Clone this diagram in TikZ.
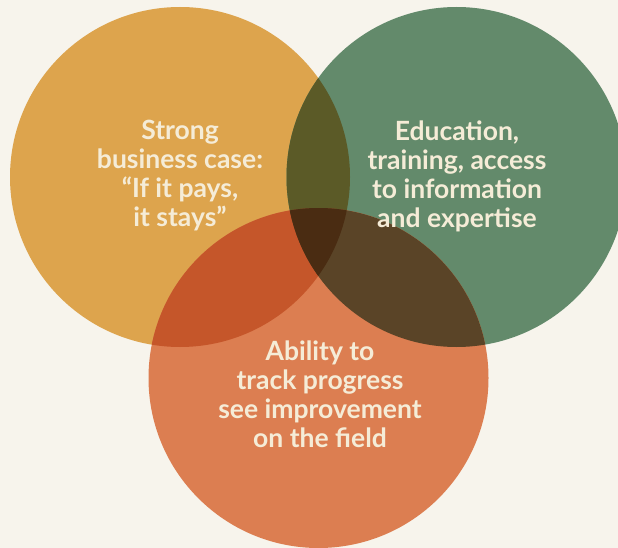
\documentclass[tikz,border=0pt]{standalone}
\usepackage{fontspec}
\setmainfont{Lato}
\usepackage{tikz}
\usetikzlibrary{positioning,shapes}

\definecolor{paper}{HTML}{F7F4EC}
\definecolor{bizcol}{HTML}{DDA44D}
\definecolor{educol}{HTML}{638A6B}
\definecolor{trackcol}{HTML}{DC7E51}
\definecolor{bizedu}{HTML}{5B5A27}
\definecolor{biztrack}{HTML}{C5562A}
\definecolor{edutrack}{HTML}{5A4427}
\definecolor{allthree}{HTML}{4A2C12}
\definecolor{ink}{HTML}{F5ECD7}

\tikzset{
  venn/.style={circle, minimum size=340pt, inner sep=0pt, draw=none},
  lbl/.style={align=center, text=ink, font=\fontsize{26.5}{29}\selectfont\bfseries}
}

\begin{document}
\begin{tikzpicture}[x=1pt,y=-1pt]
	  \fill[paper] (0,0) rectangle (618,548);
	  \useasboundingbox (0,0) rectangle (618,548);
	  \clip (0,0) rectangle (618,548);

	  \node[venn, fill=bizcol] (biz) at (180,177) {} ; %
	  \node[venn, fill=educol] (edu) at (456.5,177) {} ;
	  \node[venn, fill=trackcol] (track) at (318.5,378) {} ;

	  % pairwise overlaps
	  \begin{scope}
	    \clip (biz.center) circle (170pt);
	    \fill[bizedu] (edu.center) circle (170pt);
	    \fill[biztrack] (track.center) circle (170pt);
	  \end{scope}
	  \begin{scope}
	    \clip (edu.center) circle (170pt);
	    \fill[edutrack] (track.center) circle (170pt);
	    \clip (track.center) circle (170pt);
	    \fill[allthree] (biz.center) circle (170pt);
	  \end{scope}

	  \node[lbl] (bizlabel) at (180,176) {Strong\\business case:\\“If it pays,\\it stays”};
	  \node[lbl] (edulabel) at (457,176) {Education,\\training, access\\to information\\and expertise};
	  \node[lbl] (tracklabel) at (320,394) {Ability to\\track progress\\see improvement\\on the field};

	\end{tikzpicture}
\end{document}
